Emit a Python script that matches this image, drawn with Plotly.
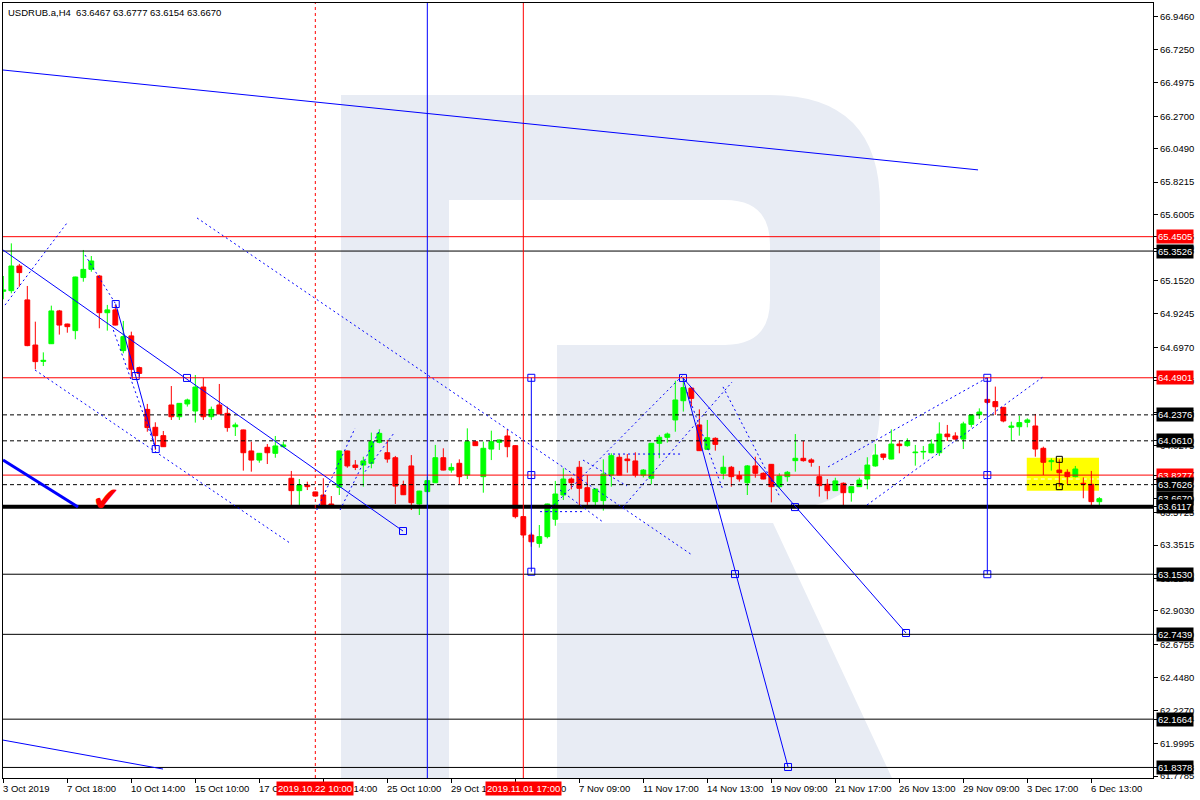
import plotly.graph_objects as go

# ---------------- data ----------------
title_text = "USDRUB.a,H4  63.6467 63.6777 63.6154 63.6670"

opens = [65.079, 65.083, 65.251, 65.020, 64.713, 64.602, 64.722, 64.945, 64.856, 64.811,
         65.172, 65.228, 65.183, 64.933, 64.952, 64.675, 64.775, 64.559, 64.275, 64.153,
         64.096, 64.305, 64.225, 64.312, 64.264, 64.427, 64.225, 64.305, 64.248, 64.157,
         64.135, 63.992, 63.930, 64.017, 63.976, 64.021, 63.806, 63.722, 63.760, 63.713,
         63.692, 63.631, 63.744, 63.992, 63.896, 63.896, 63.908, 64.051, 63.980, 63.946,
         63.760, 63.890, 63.631, 63.715, 63.776, 63.946, 63.862, 63.908, 63.828, 64.055,
         63.817, 64.005, 64.051, 64.094, 64.028, 63.545, 63.420, 63.363, 63.409, 63.527,
         63.692, 63.801, 63.881, 63.742, 63.647, 63.654, 63.828, 63.949, 63.937, 63.924,
         63.828, 63.806, 64.044, 64.085, 64.203, 64.334, 64.420, 64.169, 64.003, 64.078,
         63.840, 63.881, 63.824, 63.776, 63.890, 63.840, 63.901, 63.749, 63.817, 63.926,
         63.942, 63.931, 63.817, 63.765, 63.722, 63.772, 63.708, 63.749, 63.801, 63.890,
         63.971, 63.937, 64.039, 64.028, 63.980, 63.985, 63.980, 63.980, 64.107, 64.094,
         64.073, 64.173, 64.239, 64.343, 64.328, 64.289, 64.153, 64.157, 64.187, 64.162,
         64.010, 63.919, 63.862, 63.847, 63.817, 63.772, 63.765, 63.6467]
highs = [65.183, 65.405, 65.265, 65.115, 64.872, 64.663, 64.981, 64.952, 64.858, 65.178,
         65.360, 65.319, 65.190, 64.986, 64.986, 64.877, 64.804, 64.566, 64.312, 64.187,
         64.128, 64.434, 64.318, 64.348, 64.509, 64.489, 64.294, 64.448, 64.294, 64.185,
         64.137, 64.055, 63.978, 64.039, 64.094, 64.055, 63.856, 63.801, 63.783, 63.715,
         63.806, 63.685, 63.994, 63.994, 63.930, 63.953, 64.117, 64.139, 64.067, 63.958,
         63.790, 63.964, 63.721, 63.817, 64.033, 64.010, 63.908, 63.935, 64.146, 64.057,
         64.055, 64.130, 64.069, 64.139, 64.030, 63.547, 63.436, 63.488, 63.633, 63.788,
         63.874, 63.812, 63.924, 63.828, 63.735, 63.935, 63.976, 63.969, 63.971, 63.983,
         63.869, 64.046, 64.101, 64.117, 64.470, 64.485, 64.425, 64.275, 64.203, 64.085,
         63.960, 63.890, 63.856, 63.896, 63.953, 63.846, 63.903, 63.840, 63.856, 64.107,
         64.060, 63.942, 63.890, 63.801, 63.810, 63.778, 63.751, 63.810, 63.949, 64.039,
         63.973, 64.139, 64.062, 64.078, 64.033, 64.026, 64.071, 64.187, 64.169, 64.119,
         64.191, 64.239, 64.282, 64.490, 64.430, 64.291, 64.191, 64.232, 64.214, 64.244,
         64.021, 63.942, 63.935, 63.867, 63.890, 63.812, 63.856, 63.6777]
lows = [65.024, 65.065, 65.110, 64.705, 64.548, 64.570, 64.720, 64.784, 64.797, 64.752,
        65.144, 65.212, 64.827, 64.811, 64.847, 64.657, 64.498, 64.498, 64.123, 63.999,
        64.019, 64.203, 64.203, 64.294, 64.185, 64.203, 64.203, 64.242, 64.123, 64.094,
        63.858, 63.851, 63.912, 63.903, 63.946, 64.017, 63.624, 63.624, 63.726, 63.681,
        63.617, 63.611, 63.692, 63.878, 63.862, 63.749, 63.874, 64.044, 63.912, 63.631,
        63.692, 63.590, 63.556, 63.617, 63.774, 63.860, 63.844, 63.765, 63.801, 64.026,
        63.708, 63.930, 63.999, 63.949, 63.533, 63.400, 63.340, 63.334, 63.397, 63.483,
        63.658, 63.731, 63.620, 63.620, 63.620, 63.586, 63.749, 63.826, 63.844, 63.812,
        63.812, 63.765, 63.942, 64.049, 64.123, 64.260, 64.294, 63.992, 63.999, 63.994,
        63.799, 63.749, 63.783, 63.692, 63.810, 63.799, 63.642, 63.738, 63.783, 63.851,
        63.919, 63.885, 63.681, 63.663, 63.720, 63.613, 63.647, 63.747, 63.731, 63.885,
        63.930, 63.935, 63.976, 64.021, 63.892, 63.935, 63.976, 63.958, 64.060, 64.067,
        64.005, 64.153, 64.210, 64.310, 64.237, 64.187, 64.060, 64.096, 64.153, 63.953,
        63.828, 63.858, 63.749, 63.767, 63.812, 63.670, 63.613, 63.6154]
closes = [65.088, 65.251, 65.206, 64.709, 64.600, 64.609, 64.945, 64.849, 64.838, 65.176,
          65.228, 65.285, 64.933, 64.952, 64.849, 64.770, 64.548, 64.520, 64.151, 64.096,
          64.021, 64.225, 64.316, 64.339, 64.427, 64.225, 64.275, 64.244, 64.151, 64.169,
          63.980, 63.930, 63.976, 63.980, 64.026, 64.033, 63.722, 63.760, 63.749, 63.685,
          63.624, 63.613, 63.992, 63.890, 63.880, 63.924, 64.055, 64.112, 63.937, 63.753,
          63.694, 63.640, 63.719, 63.790, 63.946, 63.862, 63.880, 63.817, 64.055, 64.028,
          64.010, 64.055, 64.067, 64.021, 63.545, 63.420, 63.374, 63.409, 63.631, 63.699,
          63.801, 63.776, 63.738, 63.647, 63.733, 63.835, 63.960, 63.828, 63.926, 63.828,
          63.862, 64.044, 64.085, 64.107, 64.339, 64.423, 64.350, 63.994, 64.082, 64.037,
          63.881, 63.817, 63.801, 63.890, 63.840, 63.801, 63.749, 63.822, 63.847, 63.942,
          63.926, 63.915, 63.756, 63.722, 63.788, 63.708, 63.749, 63.794, 63.896, 63.964,
          63.949, 64.039, 64.028, 64.055, 63.985, 63.989, 64.039, 64.107, 64.089, 64.073,
          64.176, 64.237, 64.257, 64.323, 64.293, 64.196, 64.162, 64.185, 64.203, 64.005,
          63.915, 63.926, 63.844, 63.817, 63.869, 63.765, 63.647, 63.6670]

x_tick_pos = list(range(0, 137, 8))
x_tick_text = ["3 Oct 2019", "7 Oct 18:00", "10 Oct 14:00", "15 Oct 10:00", "17 Oct 18:00",
               "22 Oct 14:00", "25 Oct 10:00", "29 Oct 18:00", "4 Nov 13:00", "7 Nov 09:00",
               "11 Nov 17:00", "14 Nov 13:00", "19 Nov 09:00", "21 Nov 17:00", "26 Nov 13:00",
               "29 Nov 09:00", "3 Dec 17:00", "6 Dec 13:00"]
x_marker_pos = [39.0, 65.0]
x_marker_text = ["2019.10.22 10:00", "2019.11.01 17:00"]

y_tick_vals = [66.9460, 66.7250, 66.4975, 66.2700, 66.0490, 65.8215, 65.6005, 65.3730,
               65.1520, 64.9245, 64.6970, 64.4735, 64.2505, 64.0275, 63.8000, 63.5725,
               63.3515, 63.1240, 62.9030, 62.6755, 62.4480, 62.2270, 61.9995, 61.7785]

level_prices = [65.4505, 65.3526, 64.4901, 64.2376, 64.0610, 63.8277, 63.7626,
                63.6117, 63.1530, 62.7439, 62.1664, 61.8378]
level_kind = ["red", "solid", "red", "dash", "dash", "red", "dash",
              "thick", "solid", "solid", "solid", "solid"]
label_prices = [65.4505, 65.3526, 64.4901, 64.2376, 64.0610, 63.8277, 63.7626,
                63.6670, 63.6117, 63.1530, 62.7439, 62.1664, 61.8378]
label_red = [True, False, True, False, False, True, False,
             False, False, False, False, False, False]

# analysis drawings in (bar index, price)
solid_lines = [(-0.04, 66.585, 121.84, 65.905), (-0.04, 62.024, 19.96, 61.827),
               (-0.04, 65.360, 49.96, 63.447), (14.05, 64.992, 16.55, 64.502),
               (16.55, 64.502, 19.05, 64.005), (84.96, 64.489, 98.09, 61.841),
               (84.96, 64.489, 112.84, 62.753)]
thick_lines = [(-0.04, 63.930, 9.34, 63.610)]
dotted_lines = [(0.21, 64.985, 7.96, 65.544), (3.96, 64.543, 35.84, 63.365),
                (24.21, 65.578, 86.09, 63.284), (10.21, 65.326, 14.05, 64.992),
                (13.75, 64.815, 18.96, 64.021), (39.18, 63.590, 43.96, 64.146),
                (42.09, 63.590, 47.09, 64.140), (45.21, 63.851, 48.96, 64.123),
                (67.96, 63.576, 84.96, 64.509), (77.46, 63.610, 91.09, 64.461),
                (67.09, 63.579, 72.46, 63.579), (75.59, 63.971, 84.59, 63.971),
                (89.96, 64.428, 97.09, 63.678), (85.46, 64.393, 89.96, 63.726),
                (72.46, 63.930, 77.96, 63.754), (69.59, 63.726, 74.96, 63.508),
                (103.09, 63.883, 122.96, 64.489), (107.96, 63.624, 129.96, 64.496)]
blue_segments = [(66.0, 64.490, 63.170), (123.0, 64.490, 63.153)]
square_x = [22.96, 49.96, 14.05, 16.55, 19.05, 84.96, 91.46, 98.09, 98.96, 112.84,
            66.0, 66.0, 66.0, 123.0, 123.0, 123.0]
square_y = [64.489, 63.447, 64.992, 64.502, 64.005, 64.489, 63.154, 61.841, 63.610, 62.753,
            64.490, 63.828, 63.170, 64.490, 63.828, 63.153]
full_verticals = [39.0, 53.0, 65.0]
vertical_kind = ["reddash", "blue", "red"]
box_x = [127.93, 136.96]
box_y = [63.721, 63.946]
box_mid = 63.801
box_handles_x = [132.0, 132.0]
box_handles_y = [63.935, 63.749]
check_x, check_y = 12.9, 63.665

# ---------------- figure ----------------
FONT = "Liberation Sans, Arial, sans-serif"
FS = 9.5
UP, DN, BLUE = "#00ff00", "#ff0000", "#0000ff"
n = len(opens)
up = [i for i in range(n) if closes[i] >= opens[i]]
dn = [i for i in range(n) if closes[i] < opens[i]]

fig = go.Figure()

for sel, col in ((up, UP), (dn, DN)):
    xs, ys = [], []
    for i in sel:
        xs += [i, i, None]
        ys += [lows[i], highs[i], None]
    fig.add_trace(go.Scatter(x=xs, y=ys, mode="lines", line=dict(color=col, width=1),
                             hoverinfo="skip"))
for sel, col in ((up, UP), (dn, DN)):
    fig.add_trace(go.Bar(x=sel, base=[min(opens[i], closes[i]) for i in sel],
                         y=[abs(closes[i] - opens[i]) for i in sel], width=0.6,
                         marker=dict(color=col, line=dict(color=col, width=1))))

# squares
fig.add_trace(go.Scatter(x=square_x, y=square_y, mode="markers",
                         marker=dict(symbol="square-open", size=7, color=BLUE,
                                     line=dict(width=1, color=BLUE))))
fig.add_trace(go.Scatter(x=box_handles_x, y=box_handles_y, mode="markers",
                         marker=dict(symbol="square-open", size=6, color="black",
                                     line=dict(width=1, color="black"))))

shapes = []


def P(x, y):
    return f"{(x - 3) / 1150:.5f},{(778 - y) / 775:.5f}"


WM = "#e8ecf4"
# watermark "R"
shapes.append(dict(type="rect", xref="paper", yref="paper", layer="below",
                   x0=(341 - 3) / 1150, x1=(449 - 3) / 1150, y0=0, y1=(778 - 95) / 775,
                   fillcolor=WM, line=dict(width=0)))
shapes.append(dict(type="path", xref="paper", yref="paper", layer="below",
                   path=f"M{P(449,95)} L{P(770,95)} Q{P(880,95)} {P(880,205)} L{P(880,405)} "
                        f"Q{P(880,510)} {P(775,510)} L{P(449,510)} Z",
                   fillcolor=WM, line=dict(width=0)))
shapes.append(dict(type="path", xref="paper", yref="paper", layer="below",
                   path=f"M{P(449,200)} L{P(725,200)} Q{P(770,200)} {P(770,245)} L{P(770,300)} "
                        f"Q{P(770,345)} {P(725,345)} L{P(557,345)} L{P(557,512)} L{P(449,512)} Z",
                   fillcolor="white", line=dict(width=0)))
shapes.append(dict(type="path", xref="paper", yref="paper", layer="below",
                   path=f"M{P(557,523)} L{P(773,523)} L{P(892,778)} L{P(557,778)} Z",
                   fillcolor=WM, line=dict(width=0)))

# yellow box
shapes.append(dict(type="rect", xref="x", yref="y", layer="below",
                   x0=box_x[0], x1=box_x[1], y0=box_y[0], y1=box_y[1],
                   fillcolor="#ffff00", line=dict(width=0)))
shapes.append(dict(type="line", xref="x", yref="y", layer="below",
                   x0=box_x[0], x1=box_x[1], y0=box_mid, y1=box_mid,
                   line=dict(color="white", width=1, dash="4px,3px")))

# horizontal levels
for p, k in zip(level_prices, level_kind):
    if k == "red":
        ln = dict(color="#ff0000", width=1)
    elif k == "dash":
        ln = dict(color="black", width=1, dash="4px,3px")
    elif k == "thick":
        ln = dict(color="black", width=4)
    else:
        ln = dict(color="black", width=1)
    shapes.append(dict(type="line", xref="paper", yref="y", x0=0, x1=1, y0=p, y1=p, line=ln))

# vertical lines
for xv, k in zip(full_verticals, vertical_kind):
    if k == "reddash":
        ln = dict(color="#ff0000", width=1, dash="3px,3px")
    elif k == "blue":
        ln = dict(color=BLUE, width=1)
    else:
        ln = dict(color="#ff0000", width=1)
    shapes.append(dict(type="line", xref="x", yref="paper", x0=xv, x1=xv, y0=0, y1=1, line=ln))

for xv, y0, y1 in blue_segments:
    shapes.append(dict(type="line", xref="x", yref="y", x0=xv, x1=xv, y0=y0, y1=y1,
                       line=dict(color=BLUE, width=1)))
for x0, y0, x1, y1 in solid_lines:
    shapes.append(dict(type="line", xref="x", yref="y", x0=x0, y0=y0, x1=x1, y1=y1,
                       line=dict(color=BLUE, width=1)))
for x0, y0, x1, y1 in thick_lines:
    shapes.append(dict(type="line", xref="x", yref="y", x0=x0, y0=y0, x1=x1, y1=y1,
                       line=dict(color=BLUE, width=3)))
for x0, y0, x1, y1 in dotted_lines:
    shapes.append(dict(type="line", xref="x", yref="y", x0=x0, y0=y0, x1=x1, y1=y1,
                       line=dict(color=BLUE, width=1, dash="2px,3px")))

annotations = []
annotations.append(dict(x=0, xref="paper", xanchor="left", xshift=3, y=1, yref="paper",
                        yanchor="top", yshift=-2, text=title_text, showarrow=False,
                        font=dict(family=FONT, size=FS, color="black")))
annotations.append(dict(x=check_x, y=check_y, xref="x", yref="y", text="✔", showarrow=False,
                        font=dict(family="DejaVu Sans", size=34, color="#ff0000")))
for pos, txt in zip(x_tick_pos, x_tick_text):
    annotations.append(dict(x=pos, xref="x", xanchor="left", xshift=-2, y=0, yref="paper",
                            yanchor="top", yshift=-3, text=txt, showarrow=False,
                            font=dict(family=FONT, size=FS, color="black")))
for pos, txt in zip(x_marker_pos, x_marker_text):
    annotations.append(dict(x=pos, xref="x", xanchor="center", y=0, yref="paper",
                            yanchor="top", yshift=-3, text=txt, showarrow=False,
                            bgcolor="#ff0000", borderpad=1,
                            font=dict(family=FONT, size=FS, color="white")))
for p, red in zip(label_prices, label_red):
    annotations.append(dict(x=1, xref="paper", xanchor="left", xshift=3, y=p, yref="y",
                            yanchor="middle", text=f"{p:.4f}", showarrow=False,
                            bgcolor="#ff0000" if red else "black", borderpad=1,
                            font=dict(family=FONT, size=FS, color="white")))

all_ticks = y_tick_vals + label_prices
fig.update_layout(
    width=1200, height=800, margin=dict(l=3, r=47, t=3, b=22),
    paper_bgcolor="white", plot_bgcolor="white", showlegend=False,
    barmode="overlay", hovermode=False, shapes=shapes, annotations=annotations,
)
fig.update_xaxes(range=[-0.04, 143.71], tickvals=x_tick_pos, showticklabels=False,
                 ticks="outside", ticklen=4, tickcolor="black", showline=True,
                 linecolor="black", linewidth=1, mirror=True, showgrid=False, zeroline=False)
fig.update_yaxes(side="right", range=[61.766, 67.041], tickvals=all_ticks,
                 ticktext=[f"{v:.4f}" for v in all_ticks], ticks="outside", ticklen=4,
                 tickcolor="black", tickfont=dict(family=FONT, size=FS, color="black"),
                 showline=True, linecolor="black", linewidth=1, mirror=True,
                 showgrid=False, zeroline=False)

fig.write_html("out.html", config={"displayModeBar": False},
               post_script="document.body.style.margin='0px';document.body.style.padding='0px';"
                           "document.body.style.overflow='hidden';")
